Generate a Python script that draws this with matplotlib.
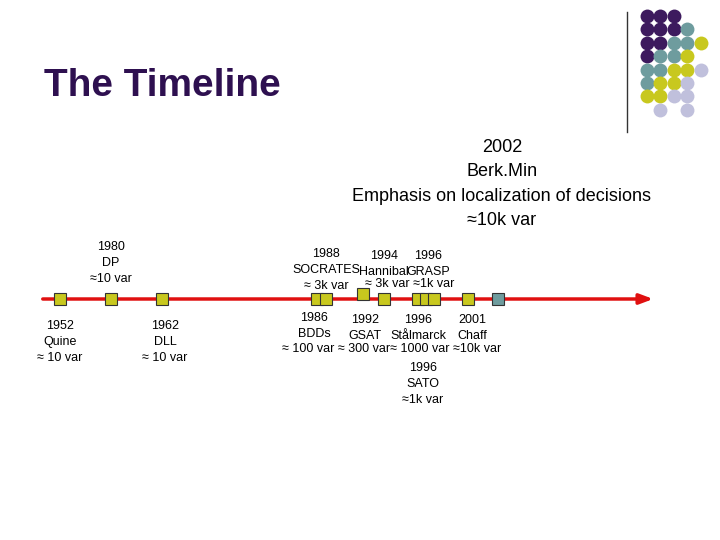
import matplotlib
matplotlib.use("Agg")
import matplotlib.pyplot as plt
from matplotlib.patches import Rectangle

plt.rcParams['font.family'] = ['Liberation Sans', 'DejaVu Sans']

PURPLE, TEAL, YEL, LAV = "#3d1a5e", "#6e9c9e", "#c8c81e", "#c0c0dc"
dot_rows = ["PPP..", "PPPT.", "PPTTY", "PTTY.", "TTYYL", "TYYL.", "YYLL.", ".L.L."]
dot_cols = {"P": PURPLE, "T": TEAL, "Y": YEL, "L": LAV}

# box centres (x pixel), y offset, colour
box_x = [60, 111, 162, 317, 326, 363, 384, 418, 426, 434, 468, 498]
box_dy = [0, 0, 0, 0, 0, -5, 0, 0, 0, 0, 0, 0]
box_c = [YEL] * 11 + [TEAL]

above = [(111, 241, "1980\nDP\n≈10 var"),
         (326, 248, "1988\nSOCRATES\n≈ 3k var"),
         (384, 250, "1994\nHannibal"),
         (428, 250, "1996\nGRASP"),
         (410, 278, "≈ 3k var ≈1k var")]
below = [(60, 320, "1952\nQuine\n≈ 10 var"),
         (165, 320, "1962\nDLL\n≈ 10 var"),
         (314, 312, "1986\nBDDs"),
         (365, 314, "1992\nGSAT"),
         (418, 314, "1996\nStålmarck"),
         (472, 314, "2001\nChaff"),
         (392, 343, "≈ 100 var ≈ 300 var≈ 1000 var ≈10k var"),
         (423, 362, "1996\nSATO\n≈1k var")]

fig = plt.figure(figsize=(7.2, 5.4), dpi=100)
ax = fig.add_axes([0, 0, 1, 1])
ax.set_xlim(0, 720)
ax.set_ylim(540, 0)
ax.axis("off")

ax.text(44, 86, "The Timeline", fontsize=28, fontweight="bold", color="#2e1050", va="center")
ax.plot([627, 627], [12, 132], color="#333333", lw=1)
for r, row in enumerate(dot_rows):
    for c, ch in enumerate(row):
        if ch != ".":
            ax.scatter(647 + 13.4 * c, 16 + 13.4 * r, s=100, color=dot_cols[ch], lw=0)

ax.text(502, 184, "2002\nBerk.Min\nEmphasis on localization of decisions\n≈10k var",
        fontsize=13, ha="center", va="center", linespacing=1.55)

ax.annotate("", xy=(656, 299), xytext=(40, 299), zorder=1,
            arrowprops=dict(arrowstyle="-|>,head_length=0.8,head_width=0.3", color="#e01010", lw=2.5))
for x, dy, col in zip(box_x, box_dy, box_c):
    ax.add_patch(Rectangle((x - 6, 293 + dy), 12, 12, facecolor=col, edgecolor="#333333", lw=0.8, zorder=3))

for x, y, t in above + below:
    ax.text(x, y, t, fontsize=9, ha="center", va="top", linespacing=1.45)

fig.savefig("out.png")
